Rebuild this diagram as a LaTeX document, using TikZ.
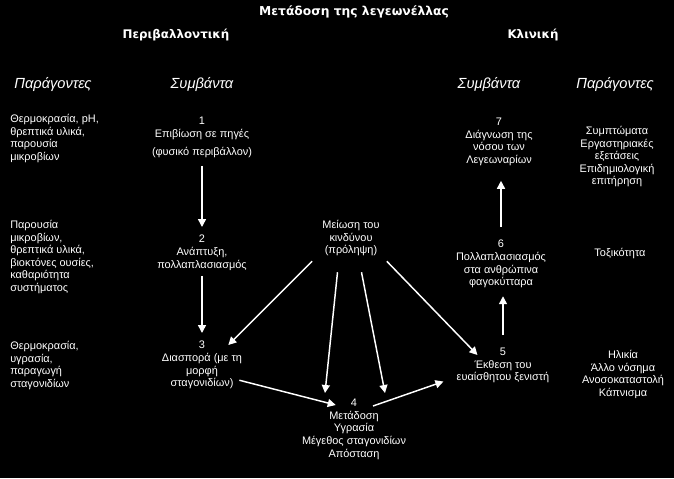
\documentclass[tikz,border=0pt]{standalone}
\usepackage{fontspec}
\setmainfont{Liberation Sans}
\newfontfamily\headfont{DejaVu Sans}
\usetikzlibrary{arrows.meta}

\tikzset{
  txt/.style={text=white, font=\fontsize{8.2}{9.45}\selectfont, align=center, inner sep=0pt, anchor=north},
  fct/.style={text=white, font=\fontsize{8.2}{9.45}\selectfont, align=left, inner sep=0pt, anchor=north west},
  hd/.style={text=white, font=\headfont\bfseries\fontsize{8.9}{10}\selectfont, inner sep=0pt},
  col/.style={text=white, font=\itshape\fontsize{11}{12}\selectfont, inner sep=0pt},
  arr/.style={draw=white, line width=1.1pt, -{Triangle[width=6pt,length=6pt]}},
}

\begin{document}
\begin{tikzpicture}[x=0.75pt, y=-0.75pt]
    \fill[black] (0,0) rectangle (674,478);
    \useasboundingbox (0,0) rectangle (674,478);

    % titles
    \node[hd, font=\headfont\bfseries\fontsize{9.2}{10}\selectfont] (title) at (354,12) {Μετάδοση της λεγεωνέλλας};
    \node[hd] (envh) at (176,35) {Περιβαλλοντική};
    \node[hd] (clinh) at (533,35) {Κλινική};

    \node[col] (fl) at (53,84) {Παράγοντες};
    \node[col] (el) at (202,84) {Συμβάντα};
    \node[col] (er) at (489,84) {Συμβάντα};
    \node[col] (fr) at (615,84) {Παράγοντες};

    % factors, environment
    \node[fct] (fa) at (10,114) {Θερμοκρασία, pH,\\θρεπτικά υλικά,\\παρουσία\\μικροβίων};
    \node[fct] (fb) at (10,220) {Παρουσία\\μικροβίων,\\θρεπτικά υλικά,\\βιοκτόνες ουσίες,\\καθαριότητα\\συστήματος};
    \node[fct] (fc) at (10,341) {Θερμοκρασία,\\υγρασία,\\παραγωγή\\σταγονιδίων};

    % events
    \node[txt] (n1) at (202,117) {1\\Επιβίωση σε πηγές\\[4pt](φυσικό περιβάλλον)};
    \node[txt] (n2) at (202,235) {2\\Ανάπτυξη,\\πολλαπλασιασμός};
    \node[txt] (n3) at (202,341) {3\\Διασπορά (με τη\\μορφή\\σταγονιδίων)};
    \node[txt] (mr) at (351,220) {Μείωση του\\κινδύνου\\(πρόληψη)};
    \node[txt] (n4) at (354,399) {4\\Μετάδοση\\Υγρασία\\Μέγεθος σταγονιδίων\\Απόσταση};
    \node[txt] (n5) at (503,348) {5\\Έκθεση του\\ευαίσθητου ξενιστή};
    \node[txt] (n6) at (501,240) {6\\Πολλαπλασιασμός\\στα ανθρώπινα\\φαγοκύτταρα};
    \node[txt] (n7) at (499,118) {7\\Διάγνωση της\\νόσου των\\Λεγεωναρίων};

    % factors, clinical
    \node[txt] (r1) at (617,126) {Συμπτώματα\\Εργαστηριακές\\εξετάσεις\\Επιδημιολογική\\επιτήρηση};
    \node[txt] (r2) at (620,248) {Τοξικότητα};
    \node[txt] (r3) at (623,350) {Ηλικία\\Άλλο νόσημα\\Ανοσοκαταστολή\\Κάπνισμα};

    % arrows
    \draw[arr, shorten <=6pt, shorten >=6pt] (n1.south) -- (n2.north);
    \draw[arr, shorten <=4pt, shorten >=6pt] (n2.south) -- (n3.north);
    \draw[arr] ([shift={(-10,5)}]mr.south west) -- ([shift={(-14,4)}]n3.north east);
    \draw[arr] ([shift={(-13.5,16)}]mr.south) -- ([shift={(-29,-6)}]n4.north);
    \draw[arr] ([shift={(10.5,16)}]mr.south) -- ([shift={(31,-6)}]n4.north);
    \draw[arr] ([shift={(7,5)}]mr.south east) -- ([shift={(21,7)}]n5.north west);
    \draw[arr] ([shift={(-3,-9)}]n3.south east) -- ([shift={(34,6)}]n4.north west);
    \draw[arr] ([shift={(19,7)}]n4.north) -- ([shift={(-13,-2)}]n5.south west);
    \draw[arr, shorten <=9.75pt, shorten >=6pt] (n5.north) -- (n5.north |- n6.south);
    \draw[arr, shorten <=9.75pt, shorten >=11pt] (n6.north) -- (n6.north |- n7.south);
\end{tikzpicture}
\end{document}
